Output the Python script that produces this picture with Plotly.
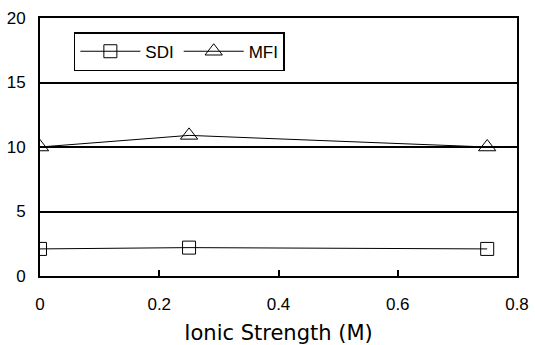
import plotly.graph_objects as go

ionic_strength = [0, 0.25, 0.75]
sdi = [2.1, 2.2, 2.1]
mfi = [10.0, 10.9, 10.0]
x_ticks = [0, 0.2, 0.4, 0.6, 0.8]
x_tick_labels = ["0", "0.2", "0.4", "0.6", "0.8"]
y_ticks = [0, 5, 10, 15, 20]

fig = go.Figure()
fig.add_trace(go.Scatter(
    x=ionic_strength, y=sdi, name="SDI", mode="lines+markers",
    line=dict(color="black", width=1),
    marker=dict(symbol="square-open", size=13, color="black", line=dict(width=1)),
))
fig.add_trace(go.Scatter(
    x=ionic_strength, y=mfi, name="MFI", mode="lines+markers",
    line=dict(color="black", width=1),
    marker=dict(symbol="triangle-up-open", size=15, color="black", line=dict(width=1)),
))

fig.update_layout(
    width=535, height=345,
    margin=dict(l=40, r=18, t=18, b=69),
    paper_bgcolor="white", plot_bgcolor="white",
    font=dict(family="Liberation Sans, Arial, sans-serif", color="black", size=17),
    showlegend=True,
    legend=dict(
        orientation="h", x=0.071, y=0.945, xanchor="left", yanchor="top",
        bordercolor="black", borderwidth=1.5, bgcolor="white",
        font=dict(size=17), itemwidth=60, tracegroupgap=0,
    ),
    xaxis=dict(
        range=[0, 0.8], tickvals=x_ticks, ticktext=x_tick_labels,
        ticks="inside", ticklen=6, tickcolor="black", tickwidth=1.5,
        showgrid=False, zeroline=False, automargin=False,
        showline=True, linecolor="black", linewidth=1.8, mirror=True,
        ticklabelstandoff=12,
        title=dict(text="Ionic Strength (M)",
                   font=dict(size=21, family="DejaVu Sans, sans-serif"), standoff=14),
    ),
    yaxis=dict(
        range=[0, 20], tickvals=y_ticks,
        ticks="", showgrid=True, gridcolor="black", gridwidth=1.8,
        zeroline=False, automargin=False,
        showline=True, linecolor="black", linewidth=1.8, mirror=True,
        ticklabelstandoff=9,
    ),
)

fig.write_html("out.html", config={"displayModeBar": False},
               post_script="document.body.style.margin='0';")
